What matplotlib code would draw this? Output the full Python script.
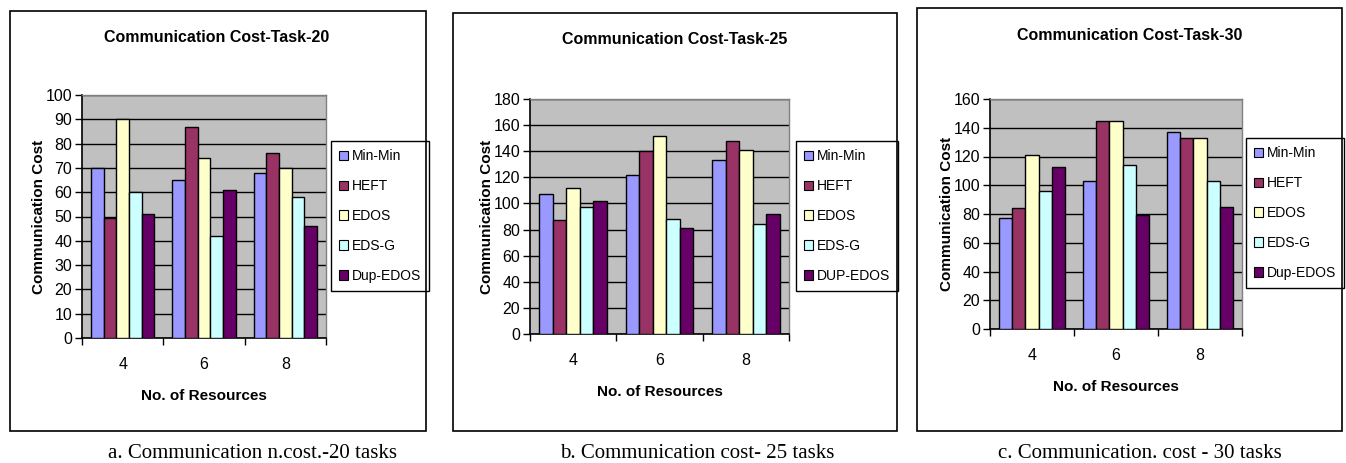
import matplotlib.pyplot as plt
from matplotlib.patches import Rectangle
from matplotlib.ticker import FixedLocator, MultipleLocator

resources = ['4', '6', '8']

names_20 = ['Min-Min', 'HEFT', 'EDOS', 'EDS-G', 'Dup-EDOS']
names_25 = ['Min-Min', 'HEFT', 'EDOS', 'EDS-G', 'DUP-EDOS']
names_30 = ['Min-Min', 'HEFT', 'EDOS', 'EDS-G', 'Dup-EDOS']

# one list per algorithm, values for 4, 6 and 8 resources
task20 = [
    [70, 65, 68],
    [49.5, 87, 76],
    [90, 74, 70],
    [60, 42, 58],
    [51, 61, 46],
]
task25 = [
    [107, 122, 133],
    [87, 140, 148],
    [112, 152, 141],
    [97, 88, 84],
    [102, 81, 92],
]
task30 = [
    [77, 103, 137],
    [84, 145, 133],
    [121, 145, 133],
    [96, 114, 103],
    [113, 79, 85],
]

colors = ['#9999FF', '#993366', '#FFFFCC', '#CCFFFF', '#660066']

W, H = 1346, 463
fig = plt.figure(figsize=(W / 100, H / 100), dpi=100)
fig.patch.set_facecolor('white')

sans = ['Liberation Sans', 'DejaVu Sans']
serif = ['Liberation Serif', 'DejaVu Serif']


def fx(px):
    return px / W


def fy(py):
    return 1 - py / H


def panel(box, plot, legend_c, title, title_xy, names, data, ymax, ystep,
          caption, caption_xy):
    # outer frame
    x0, y0, x1, y1 = box
    fig.add_artist(Rectangle((fx(x0), fy(y1)), fx(x1 - x0), (y1 - y0) / H,
                             transform=fig.transFigure, fill=False,
                             edgecolor='black', linewidth=1.2))
    fig.text(fx(title_xy[0]), fy(title_xy[1]), title, ha='center', va='center',
             fontsize=11.5, fontweight='bold', family=sans)
    fig.text(fx(caption_xy[0]), fy(caption_xy[1]), caption, ha='center',
             va='center', fontsize=15, family=serif)

    px0, py0, px1, py1 = plot
    ax = fig.add_axes([fx(px0), fy(py1), fx(px1 - px0), (py1 - py0) / H])
    ax.set_facecolor('#C0C0C0')

    n = len(data)
    bw = 0.156
    for i, (vals, c, lab) in enumerate(zip(data, colors, names)):
        xs = [k + 0.5 + (i - (n - 1) / 2) * bw for k in range(len(resources))]
        ax.bar(xs, vals, width=bw, color=c, edgecolor='black', linewidth=1.0,
               label=lab, zorder=3)

    ax.set_xlim(0, len(resources))
    ax.set_ylim(0, ymax)
    ax.yaxis.set_major_locator(MultipleLocator(ystep))
    ax.grid(axis='y', color='black', linewidth=1.0, zorder=1)
    ax.xaxis.set_major_locator(FixedLocator(range(len(resources) + 1)))
    ax.xaxis.set_major_formatter(plt.NullFormatter())
    ax.xaxis.set_minor_locator(FixedLocator([k + 0.5 for k in range(len(resources))]))
    ax.set_xticklabels(resources, minor=True)
    ax.tick_params(axis='x', which='major', length=5, width=1, direction='out')
    ax.tick_params(axis='x', which='minor', length=0, pad=14)
    ax.tick_params(axis='y', length=5, width=1, direction='out', pad=2)
    for lab in ax.get_xticklabels(minor=True) + ax.get_yticklabels():
        lab.set_family(sans)
        lab.set_fontsize(11.5)

    for side in ['top', 'right']:
        ax.spines[side].set_color('#808080')
        ax.spines[side].set_linewidth(1.0)
    for side in ['left', 'bottom']:
        ax.spines[side].set_color('black')
        ax.spines[side].set_linewidth(1.2)

    ax.set_xlabel('No. of Resources', fontsize=11, fontweight='bold',
                  family=sans, labelpad=12)
    ax.set_ylabel('Communication Cost', fontsize=11, fontweight='bold',
                  family=sans, labelpad=0)

    leg = ax.legend(loc='center', bbox_to_anchor=(fx(legend_c[0]), fy(legend_c[1])),
                    bbox_transform=fig.transFigure,
                    prop={'family': sans, 'size': 10},
                    handlelength=0.65, handleheight=0.65, handletextpad=0.3,
                    labelspacing=1.15, borderpad=0.55, borderaxespad=0,
                    fancybox=False, edgecolor='black', framealpha=1)
    leg.get_frame().set_linewidth(1.0)
    for h in leg.legend_handles:
        h.set_linewidth(0.8)
    return ax


panel((10, 11, 426, 431), (82, 95, 326, 338), (380, 216),
      'Communication Cost-Task-20', (217, 37), names_20, task20, 100, 10,
      'a. Communication n.cost.-20 tasks', (253, 453))
panel((453, 13, 897, 431), (530, 99, 789, 334), (847, 216),
      'Communication Cost-Task-25', (675, 40), names_25, task25, 180, 20,
      'b. Communication cost- 25 tasks', (697, 453))
panel((917, 8, 1342, 431), (990, 99, 1242, 329), (1295, 213),
      'Communication Cost-Task-30', (1130, 36), names_30, task30, 160, 20,
      'c. Communication. cost - 30 tasks', (1140, 453))

fig.savefig('out.png', dpi=100)
